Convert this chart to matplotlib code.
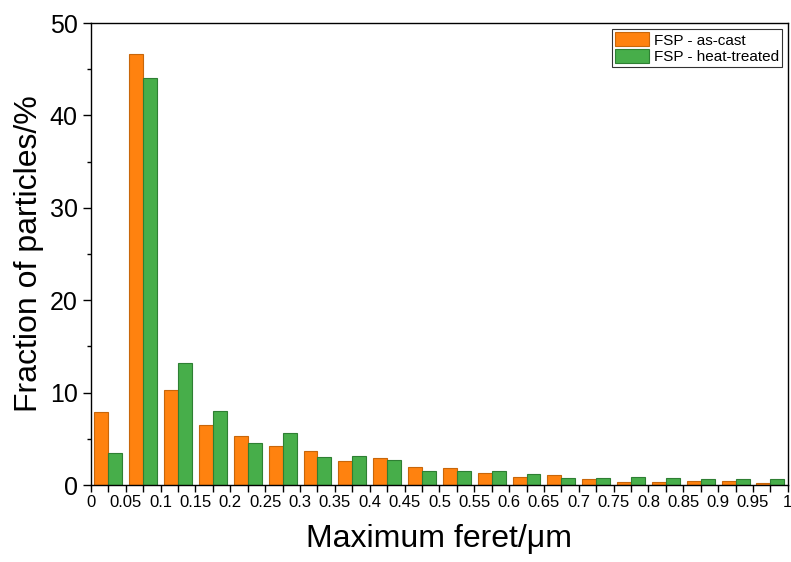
import matplotlib
matplotlib.use("Agg")
import matplotlib.pyplot as plt
import numpy as np

plt.rcParams["font.family"] = ["Liberation Sans", "DejaVu Sans"]

# bin starts (um), 0.05 wide bins
bin_starts = np.arange(0, 1.0, 0.05)
as_cast = [7.9, 46.7, 10.3, 6.45, 5.3, 4.2, 3.7, 2.65, 2.95, 1.9,
           1.8, 1.3, 0.87, 1.08, 0.65, 0.36, 0.36, 0.43, 0.4, 0.25]
heat_treated = [3.5, 44.1, 13.2, 8.0, 4.5, 5.6, 3.0, 3.1, 2.7, 1.55,
                1.48, 1.48, 1.16, 0.72, 0.72, 0.83, 0.72, 0.69, 0.61, 0.61]
labels = ["FSP - as-cast", "FSP - heat-treated"]

fig = plt.figure(figsize=(7.91, 5.62), dpi=100)
ax = fig.add_axes([0.115, 0.137, 0.881, 0.822])

centers = bin_starts + 0.025
w = 0.02
ax.bar(centers - w / 2, as_cast, w, color="#FF820F", edgecolor="#C8660A",
       linewidth=0.8, label=labels[0])
ax.bar(centers + w / 2, heat_treated, w, color="#47AE4A", edgecolor="#2E7F33",
       linewidth=0.8, label=labels[1])

ax.set_xlim(0, 1)
ax.set_ylim(0, 50)
xt = np.round(np.arange(0, 1.0001, 0.05), 2)
ax.set_xticks(xt)
ax.set_xticklabels([("%g" % v) for v in xt], fontsize=12)
ax.set_xticks(np.arange(0.025, 1, 0.05), minor=True)
ax.set_yticks(np.arange(0, 51, 10))
ax.set_yticks(np.arange(5, 50, 10), minor=True)
ax.tick_params(axis="y", which="major", labelsize=18, length=6, width=1)
ax.tick_params(axis="y", which="minor", length=3, width=1)
ax.tick_params(axis="x", which="both", length=5, width=1, pad=2)
for s in ax.spines.values():
    s.set_linewidth(1)

ax.set_xlabel("Maximum feret/\u03bcm", fontsize=23, labelpad=10)
ax.set_ylabel("Fraction of particles/%", fontsize=23, labelpad=4)

leg = ax.legend(loc="upper right", fontsize=11, frameon=True, fancybox=False,
                edgecolor="black", handlelength=2.2, handleheight=1.05,
                handletextpad=0.3, borderpad=0.2, labelspacing=0.1,
                borderaxespad=0.4)
leg.get_frame().set_linewidth(0.8)

fig.savefig("out.png", dpi=100)
